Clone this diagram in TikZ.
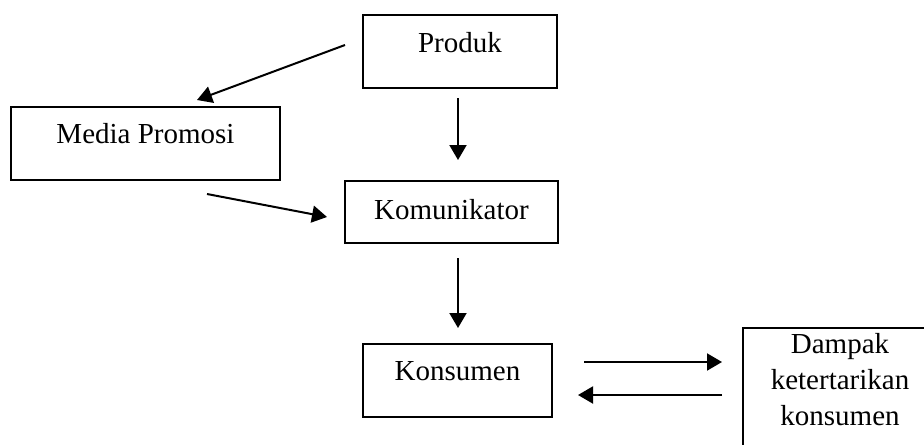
\documentclass[tikz,border=0pt]{standalone}
\usepackage{fontspec}
\setmainfont{Liberation Serif}
\usetikzlibrary{arrows.meta}

\tikzset{
  kotak/.style={draw, line width=1pt, inner sep=0pt, anchor=base,
    font=\fontsize{14.5}{18}\selectfont},
  panah/.style={line width=1pt, -{Triangle[length=7.5pt, width=8.5pt]}}
}

\begin{document}
\begin{tikzpicture}[x=0.5pt, y=-0.5pt]
  \useasboundingbox (0,0) rectangle (924,444);
  \clip (0,0) rectangle (924,444);

  % Kotak-kotak
  \node[kotak, minimum width=97pt, text height=19pt, text depth=17.5pt] (produk) at (460,53) {Produk};
  \node[kotak, minimum width=134.5pt, text height=18pt, text depth=18.5pt] (media) at (145.5,143) {Media Promosi};
  \node[kotak, minimum width=106.5pt, text height=19pt, text depth=12pt] (komunikator) at (451.5,219) {Komunikator};
  \node[kotak, minimum width=94.5pt, text height=18pt, text depth=18.5pt] (konsumen) at (457.5,380) {Konsumen};
  \node[draw, line width=1pt, minimum width=97pt, minimum height=70pt, anchor=north] (dampak) at (840,327) {};
  \node[align=center, inner sep=0pt, anchor=north, font=\fontsize{14.5}{18}\selectfont] (dampakteks) at (840,333) {Dampak\\ketertarikan\\konsumen};

  % Titik ujung panah
  \coordinate (p1) at (345,45);
  \coordinate (m1) at (197,100);
  \coordinate (p2) at (458,98);
  \coordinate (k1) at (458,160);
  \coordinate (m2) at (207,194);
  \coordinate (k2) at (327,217);
  \coordinate (k3) at (458,258);
  \coordinate (s1) at (458,328);
  \coordinate (s2) at (584,362);
  \coordinate (d1) at (722,362);
  \coordinate (d2) at (722,395);
  \coordinate (s3) at (578,395);

  % Panah
  \draw[panah] (p1) -- (m1);
  \draw[panah] (p2) -- (k1);
  \draw[panah] (m2) -- (k2);
  \draw[panah] (k3) -- (s1);
  \draw[panah] (s2) -- (d1);
  \draw[panah] (d2) -- (s3);
\end{tikzpicture}
\end{document}
